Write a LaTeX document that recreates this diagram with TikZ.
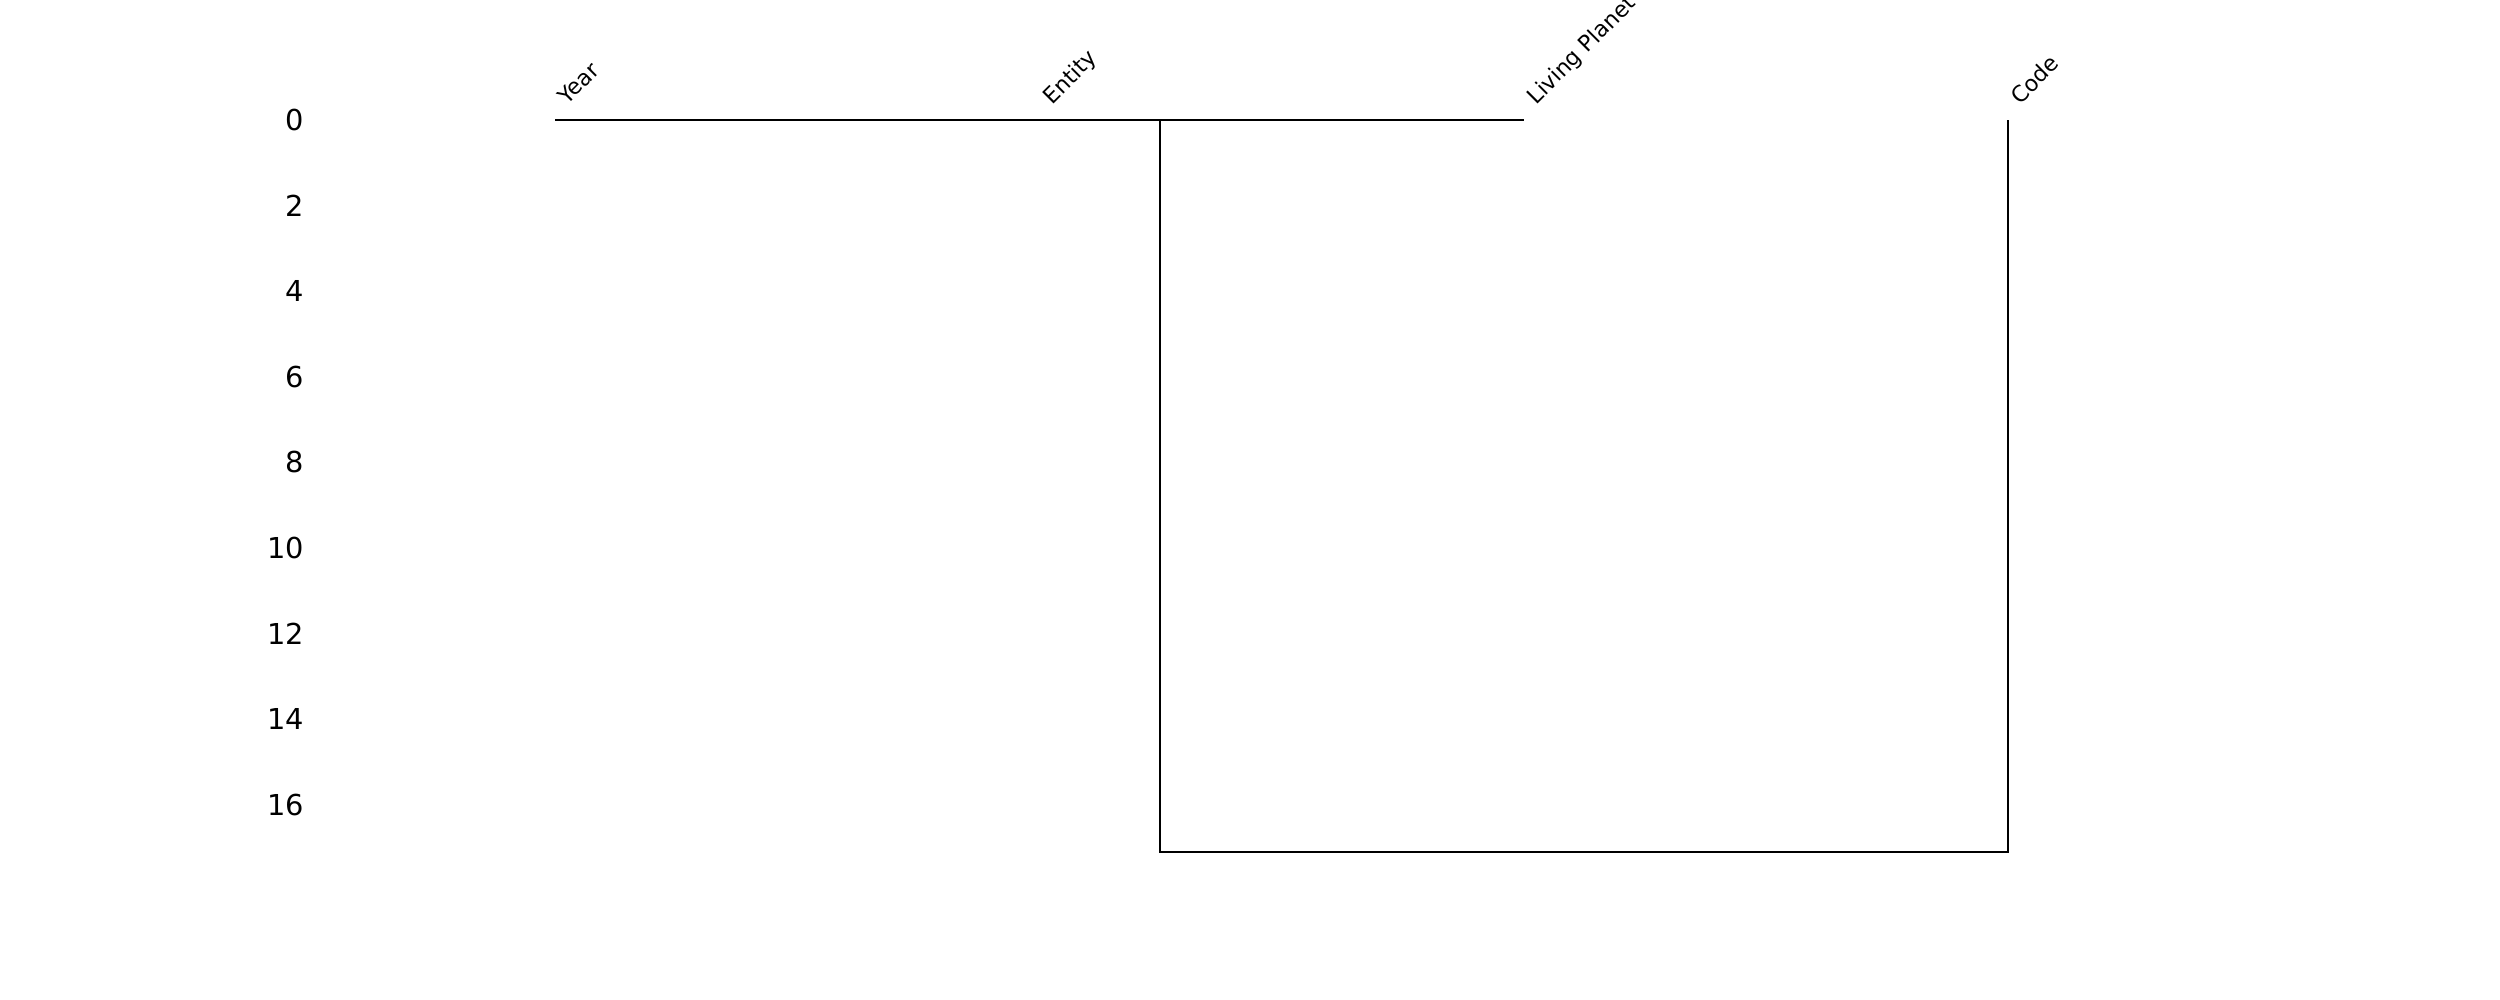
\documentclass[tikz,border=0pt]{standalone}
\usepackage{fontspec}
\setmainfont{DejaVu Sans}
\begin{document}
\begin{tikzpicture}[x=0.01cm,y=-0.01cm,
  link/.style={line width=0.65pt,black},
  toplink/.style={line width=0.3pt,black},
  tick/.style={anchor=east,inner sep=0pt,font=\fontsize{8.2}{9.8}\selectfont},
  collabel/.style={anchor=south west,inner sep=0pt,rotate=45,text height=4.8pt,text depth=1.5pt,font=\fontsize{6.3}{7.5}\selectfont}]
\useasboundingbox (0,0) rectangle (2500,1000);
% column positions
\coordinate (cYear) at (555,120);
\coordinate (cEntity) at (1040,120);
\coordinate (cLiving) at (1524,120);
\coordinate (cCode) at (2008,120);
\coordinate (mid) at (1160,120);
\coordinate (midB) at (1160,852);
\coordinate (codeB) at (2008,852);
% column labels
\node[collabel] (lYear) at (571,110) {Year};
\node[collabel] (lEntity) at (1056,110) {Entity};
\node[collabel] (lLiving) at (1540,110) {Living Planet};
\node[collabel] (lCode) at (2024,110) {Code};
% tick labels
\foreach \v in {0,2,...,16}{
  \node[tick] (t\v) at (305,{120+\v*42.8}) {\v};
}
% dendrogram
\draw[toplink] (cYear) -- (cLiving);
\draw[link] (mid) -- (midB) -- (codeB) -- (cCode);
\end{tikzpicture}
\end{document}
